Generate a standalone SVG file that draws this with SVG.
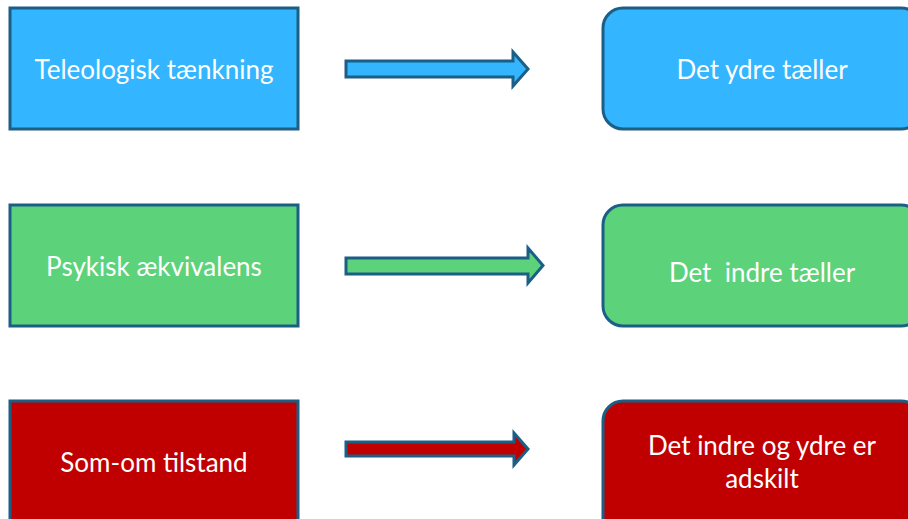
<svg xmlns="http://www.w3.org/2000/svg" width="908" height="519" viewBox="0 0 908 519">
  <style>
    .box { stroke: #1c5f86; stroke-width: 3; }
    .arrow { stroke: #1c5f86; stroke-width: 3; stroke-linejoin: miter; }
    .blue { fill: #33b5ff; }
    .green { fill: #5cd27b; }
    .red { fill: #c00000; }
    text { font-family: Lato, "Open Sans", "Liberation Sans", sans-serif; font-size: 26px; fill: #ffffff; text-anchor: middle; }
  </style>
  <rect width="908" height="519" fill="#ffffff"/>

  <!-- row 1 -->
  <g id="teleologisk">
    <rect class="box blue" x="10" y="8" width="288" height="121"/>
    <text x="154" y="79">Teleologisk tænkning</text>
  </g>
  <g id="ydre">
    <rect class="box blue" x="603" y="8" width="318" height="121" rx="20" ry="20"/>
    <text x="762" y="79">Det ydre tæller</text>
  </g>

  <!-- row 2 -->
  <g id="psykisk">
    <rect class="box green" x="10" y="205" width="288" height="121"/>
    <text x="154" y="276">Psykisk ækvivalens</text>
  </g>
  <g id="indre">
    <rect class="box green" x="603" y="205" width="318" height="121" rx="20" ry="20"/>
    <text x="762" y="282" xml:space="preserve">Det  indre tæller</text>
  </g>

  <!-- row 3 -->
  <g id="somom">
    <rect class="box red" x="10" y="401" width="288" height="140"/>
    <text x="154" y="472">Som-om tilstand</text>
  </g>
  <g id="adskilt">
    <rect class="box red" x="603" y="401" width="318" height="140" rx="20" ry="20"/>
    <text x="762" y="455">Det indre og ydre er</text>
    <text x="762" y="488">adskilt</text>
  </g>

  <!-- block arrows between the columns -->
  <g id="connectors">
    <polygon class="arrow blue" points="346,61 513,61 513,52 528,69 513,86 513,77 346,77"/>
    <polygon class="arrow green" points="346,258 528,258 528,248 543,265.5 528,283 528,274 346,274"/>
    <polygon class="arrow red" points="346,442 514,442 514,433 528,449 514,465 514,456 346,456"/>
  </g>
</svg>
